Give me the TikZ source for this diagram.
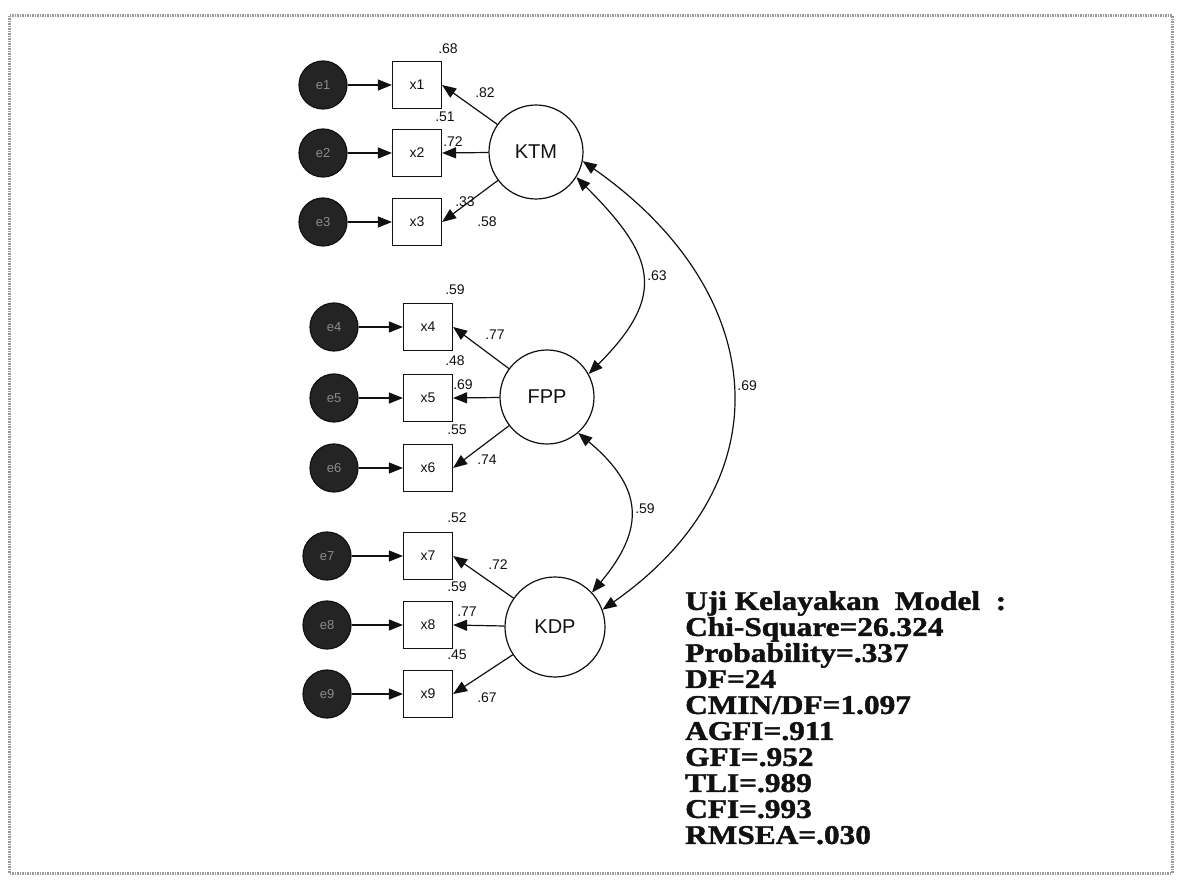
\documentclass[tikz,border=0pt]{standalone}
\usepackage{fontspec}
\usepackage{xcolor}
\usetikzlibrary{arrows.meta}
\newfontfamily\semfont{Liberation Sans}
\newfontfamily\fitfont{Liberation Serif}[FakeStretch=1.16,FakeBold=1.6]
\definecolor{Ink}{HTML}{111111}
\definecolor{Speck}{HTML}{8C8C8C}
\definecolor{Frame}{HTML}{9A9A9A}

\begin{document}
\begin{tikzpicture}[x=1pt,y=1pt,every node/.style={font=\semfont,text=Ink},
  latent/.style={circle,draw=Ink,line width=1.2pt,minimum size=94pt,inner sep=0pt,font=\semfont\fontsize{20}{22}\selectfont},
  obsbox/.style={rectangle,draw=Ink,line width=1.2pt,minimum width=49pt,minimum height=47pt,inner sep=0pt,font=\semfont\fontsize{14}{16}\selectfont},
  errdot/.style={circle,draw=Ink,fill=Ink!92,line width=1.2pt,minimum size=48pt,inner sep=0pt,text=Speck,font=\semfont\fontsize{13}{15}\selectfont},
  coef/.style={inner sep=2pt,font=\semfont\fontsize{14}{16}\selectfont},
  load/.style={draw=Ink,line width=1.2pt,-{Triangle[length=14pt,width=11pt]}},
  cov/.style={draw=Ink,line width=1.2pt,{Triangle[length=14pt,width=11pt]}-{Triangle[length=14pt,width=11pt]}}]
\fill[white] (0,0) rectangle (1179,-882);
\draw[Frame,line width=3pt,dash pattern=on 1.5pt off 1pt] (9,-16) rectangle (1172,-873);
% latent factors
\node[latent] (KTM) at (536,-152) {KTM};
\node[latent] (FPP) at (547,-397) {FPP};
\node[latent,minimum size=100pt] (KDP) at (555,-627) {KDP};
% indicators with their errors
\foreach \i/\ex/\bx/\y/\f in {1/323/417/85/KTM,2/323/417/153/KTM,3/323/417/222/KTM,
  4/334/428/327/FPP,5/334/428/398/FPP,6/334/428/468/FPP,
  7/327/428/556/KDP,8/327/428/625/KDP,9/327/428/694/KDP} {
  \node[errdot] (e\i) at (\ex,-\y) {e\i};
  \node[obsbox] (x\i) at (\bx,-\y) {x\i};
  \draw[load] (e\i) -- (x\i);
  \draw[load] (\f) -- (x\i.east);
}
% correlations
\draw[cov] (KTM.-32) to[out=-45,in=45,looseness=1.45] node[coef,right=3pt] (r1) {.63} (FPP.29);
\draw[cov] (FPP.-49) to[out=-40,in=50,looseness=1.35] node[coef,right=3pt] (r2) {.59} (KDP.43);
\draw[cov] (KTM.-11) to[out=-35,in=35,looseness=1.29] node[coef,right=3pt] (r3) {.69} (KDP.20);
% estimates
\foreach \v/\lx/\ly [count=\n] in {.68/448/49,.82/485/93,.51/445/117,.72/453/142,.33/465/202,.58/487/222,
  .59/455/290,.77/495/335,.48/455/361,.69/463/385,.55/457/430,.74/487/460,
  .52/457/518,.72/498/565,.59/457/587,.77/467/612,.45/457/655,.67/487/698}
  \node[coef] (est\n) at (\lx,-\ly) {\v};
% model fit
\node[anchor=north west,inner sep=0pt,align=left,font=\fitfont\bfseries\fontsize{27}{26}\selectfont] (fit) at (685,-591)
  {Uji Kelayakan\ \ Model\ \ :\\Chi-Square=26.324\\Probability=.337\\DF=24\\CMIN/DF=1.097\\AGFI=.911\\GFI=.952\\TLI=.989\\CFI=.993\\RMSEA=.030};
\end{tikzpicture}
\end{document}
